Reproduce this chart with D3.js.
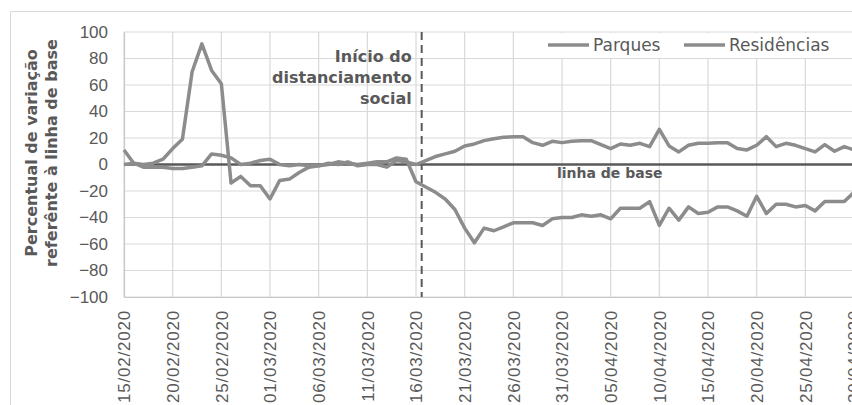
<!DOCTYPE html>
<html>
<head>
<meta charset="utf-8">
<script src="https://cdn.jsdelivr.net/npm/d3@7"></script>
<style>
  body { margin: 0; background: #fff; overflow: hidden; }
  svg { display: block; font-family: "Century Gothic", "DejaVu Sans", sans-serif; }
</style>
</head>
<body>
<svg id="chart" width="852" height="405"></svg>
<script>
// donnees -------------------------------------------------
let debut = new Date(2020, 1, 15);
let fin = new Date(2020, 3, 30);
let jours = d3.timeDay.range(debut, d3.timeDay.offset(fin, 1));

let ticksX = ["15/02/2020", "20/02/2020", "25/02/2020", "01/03/2020", "06/03/2020",
  "11/03/2020", "16/03/2020", "21/03/2020", "26/03/2020", "31/03/2020", "05/04/2020",
  "10/04/2020", "15/04/2020", "20/04/2020", "25/04/2020", "30/04/2020"];
let ticksY = [-100, -80, -60, -40, -20, 0, 20, 40, 60, 80, 100];

let parques = [11, 1, 0, 1, 4, 12, 19, 70, 91, 71, 61, -14, -9, -16, -16, -26, -12, -11, -6, -2,
  -1, 0, 2, 1, 0, 1, 2, 2, 5, 4, -13, -17, -21, -26, -34, -48, -59, -48, -50, -47,
  -44, -44, -44, -46, -41, -40, -40, -38, -39, -38, -41, -33, -33, -33, -28, -46, -33, -42, -32, -37,
  -36, -32, -32, -35, -39, -24, -37, -30, -30, -32, -31, -35, -28, -28, -28, -21];
let residencias = [0, 1, -2, -2, -2, -3, -3, -2, -1, 8, 7, 5, 0, 1, 3, 4, 0, -1, 0, -1,
  -1, 1, 0, 2, -1, 0, 0, -2, 3, 2, 0, 3, 6, 8, 10, 14, 15.5, 18, 19.5, 20.5,
  21, 21, 16.5, 14.5, 17.5, 16.5, 17.5, 18, 18, 15, 12, 15.5, 14.5, 16, 13.5, 26.5, 14, 9.5, 14.5, 16,
  16, 16.5, 16.5, 12, 11, 14.5, 21, 13.5, 16, 14.5, 12, 9.5, 15, 10, 13.5, 11];

let series = [
  {nom: "Parques", valeurs: parques},
  {nom: "Residências", valeurs: residencias}
];

let dateDistanciamento = new Date(2020, 2, 16, 14);

//Dimensions ------------------------------------------------
let margin = {top: 32, left: 124, bottom: 108},
    width = 854 - margin.left,
    height = 405 - margin.top - margin.bottom;

let svg = d3.select("#chart");
let parseDate = d3.timeParse("%d/%m/%Y");
let formatDate = d3.timeFormat("%d/%m/%Y");

let x = d3.scaleTime().domain([debut, fin]).range([0, width]);
let y = d3.scaleLinear().domain([-100, 100]).range([height, 0]);

//Cadre du graphique
svg.append("path")
  .attr("d", "M10.5,410 V11.5 H860")
  .attr("fill", "none")
  .attr("stroke", "#d9d9d9")
  .attr("stroke-width", 1);

let g = svg.append("g")
  .attr("transform", "translate(" + margin.left + "," + margin.top + ")");

//Grille
g.append("g")
  .selectAll("line")
  .data(ticksY)
  .enter().append("line")
    .attr("x1", 0).attr("x2", width + 10)
    .attr("y1", d => y(d)).attr("y2", d => y(d))
    .attr("stroke", "#d9d9d9")
    .attr("stroke-width", 1.2);

g.append("g")
  .selectAll("line")
  .data(ticksX)
  .enter().append("line")
    .attr("x1", d => x(parseDate(d))).attr("x2", d => x(parseDate(d)))
    .attr("y1", 0).attr("y2", height)
    .attr("stroke", "#d9d9d9")
    .attr("stroke-width", 1.2);

//Axes
let axeY = g.append("g")
  .call(d3.axisLeft(y).tickValues(ticksY).tickSize(0).tickPadding(16));
axeY.select(".domain").attr("stroke", "#c8c8c8").attr("stroke-width", 1.2);
axeY.selectAll("text")
  .attr("fill", "#595959")
  .attr("font-size", 17)
  .attr("font-family", "inherit");

let axeX = g.append("g")
  .attr("transform", "translate(0," + height + ")")
  .call(d3.axisBottom(x).tickValues(ticksX.map(parseDate)).tickFormat(formatDate).tickSize(0));
axeX.select(".domain").attr("stroke", "#c8c8c8").attr("stroke-width", 1.2);
axeX.selectAll("text")
  .attr("fill", "#595959")
  .attr("font-size", 17)
  .attr("letter-spacing", 0.8)
  .attr("font-family", "inherit")
  .attr("text-anchor", "end")
  .attr("transform", "rotate(-90)")
  .attr("x", -13)
  .attr("y", 0)
  .attr("dy", "0.35em");

//Ligne de base
g.append("line")
  .attr("x1", 0).attr("x2", width + 10)
  .attr("y1", y(0)).attr("y2", y(0))
  .attr("stroke", "#595959")
  .attr("stroke-width", 2.5);

g.append("text")
  .attr("x", 433)
  .attr("y", y(0) + 13)
  .attr("fill", "#595959")
  .attr("font-size", 14)
  .attr("font-weight", "bold")
  .text("linha de base");

//Ligne pointillee du distanciamento
g.append("line")
  .attr("x1", x(dateDistanciamento)).attr("x2", x(dateDistanciamento))
  .attr("y1", 0).attr("y2", height)
  .attr("stroke", "#595959")
  .attr("stroke-width", 2)
  .attr("stroke-dasharray", "8,5");

let annot = g.append("text")
  .attr("fill", "#595959")
  .attr("font-size", 16)
  .attr("font-weight", "bold")
  .attr("text-anchor", "end");
["Início do", "distanciamento", "social"].forEach(function(t, i) {
  annot.append("tspan")
    .attr("x", x(dateDistanciamento) - 10)
    .attr("y", 30 + i * 21)
    .text(t);
});

//Courbes
let ligne = d3.line()
  .x((d, i) => x(jours[i]))
  .y(d => y(d));

g.selectAll(".serie")
  .data(series)
  .enter().append("path")
    .attr("class", "serie")
    .attr("d", d => ligne(d.valeurs))
    .attr("fill", "none")
    .attr("stroke", "#8c8c8c")
    .attr("stroke-width", 3.5)
    .attr("stroke-linejoin", "round");

//Legende
let legende = svg.append("g");
legende.append("rect")
  .attr("x", 527).attr("y", 33)
  .attr("width", 320).attr("height", 25)
  .attr("fill", "#fff");

let posLegende = [{x: 548, tx: 593}, {x: 684, tx: 729}];
series.forEach(function(s, i) {
  legende.append("line")
    .attr("x1", posLegende[i].x).attr("x2", posLegende[i].x + 41)
    .attr("y1", 45).attr("y2", 45)
    .attr("stroke", "#8c8c8c")
    .attr("stroke-width", 3.5);
  legende.append("text")
    .attr("x", posLegende[i].tx)
    .attr("y", 51)
    .attr("fill", "#595959")
    .attr("font-size", 17)
    .text(s.nom);
});

//Titre de l'axe Y
let titreY = svg.append("text")
  .attr("transform", "translate(0,153) rotate(-90)")
  .attr("text-anchor", "middle")
  .attr("fill", "#595959")
  .attr("font-size", 16)
  .attr("font-weight", "bold");
titreY.append("tspan").attr("x", 0).attr("y", 37).text("Percentual de variação");
titreY.append("tspan").attr("x", 0).attr("y", 57).text("referênte à linha de base");
</script>
</body>
</html>
